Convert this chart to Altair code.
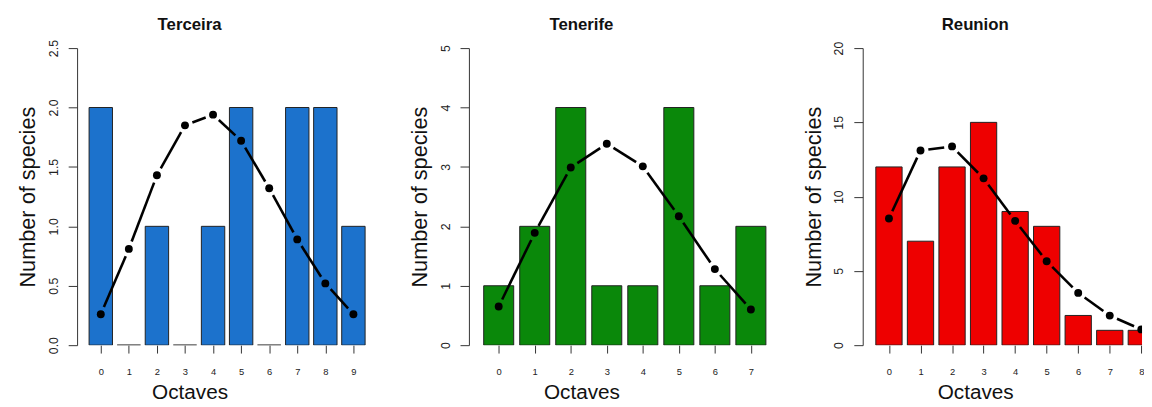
import altair as alt
import pandas as pd

FONT = "Liberation Sans"

# ---- data ----
octaves_terceira = [0, 1, 2, 3, 4, 5, 6, 7, 8, 9]
species_terceira = [2, 0, 1, 0, 1, 2, 0, 2, 2, 1]
fitted_terceira = [0.26, 0.81, 1.43, 1.85, 1.94, 1.72, 1.32, 0.89, 0.52, 0.26]

octaves_tenerife = [0, 1, 2, 3, 4, 5, 6, 7]
species_tenerife = [1, 2, 4, 1, 1, 4, 1, 2]
fitted_tenerife = [0.65, 1.89, 2.99, 3.39, 3.01, 2.17, 1.28, 0.60]

octaves_reunion = [0, 1, 2, 3, 4, 5, 6, 7, 8]
species_reunion = [12, 7, 12, 15, 9, 8, 2, 1, 1]
fitted_reunion = [8.53, 13.11, 13.38, 11.23, 8.37, 5.65, 3.52, 1.99, 1.06]

yticks_terceira = [0, 0.5, 1.0, 1.5, 2.0, 2.5]
yticks_tenerife = [0, 1, 2, 3, 4, 5]
yticks_reunion = [0, 5, 10, 15, 20]

BAR_HALF = 0.5 / 1.2   # R barplot: width 1, space 0.2 -> in octave units
GAP_PX = 8             # type="b" line gap around each point
H = 301


def panel(name, octs, counts, fitted, color, ymax, yvals, yfmt, xlo, xhi, width,
          title_offset):
    df = pd.DataFrame({"octave": octs, "species": counts, "fitted": fitted})
    kx = width / (xhi - xlo)
    ky = H / ymax
    xs = alt.Scale(domain=[xlo, xhi], nice=False, zero=False)
    ys = alt.Scale(domain=[0, ymax], nice=False, zero=True)
    xaxis = alt.Axis(
        values=octs, format="d", domain=False, grid=False,
        tickSize=8, tickColor="#333", tickWidth=1,
        labelFontSize=9.5, labelColor="#222", labelPadding=14, labelFont=FONT,
        labelAngle=0, labelFlush=False, labelOverlap=False,
        title="Octaves", titleFontSize=21, titleFontWeight="normal", titleFont=FONT,
        titleColor="#111", titleX=114, titleY=54, titleAlign="center",
        titleBaseline="alphabetic",
    )
    yaxis = alt.Axis(
        values=yvals, format=yfmt, domain=True, domainColor="#333", domainWidth=1,
        grid=False, tickSize=9, tickColor="#333", tickWidth=1,
        labelAngle=270, labelAlign="center", labelBaseline="bottom",
        labelFontSize=12.5, labelPadding=8, labelFont=FONT, labelColor="#222",
        labelFlush=False, labelOverlap=False,
        title="Number of species", titleFontSize=22, titleFontWeight="normal",
        titleFont=FONT, titleColor="#111", titleAngle=270, titleX=-43, titleY=H / 2,
        titleAlign="center", titleBaseline="alphabetic",
    )
    base = alt.Chart(df)
    bars = base.transform_calculate(
        left=f"datum.octave - {BAR_HALF}",
        right=f"datum.octave + {BAR_HALF}",
        bottom="0",
    ).mark_rect(fill=color, stroke="#222", strokeWidth=1, clip=True).encode(
        x=alt.X("left:Q", scale=xs, axis=xaxis),
        x2="right:Q",
        y=alt.Y("species:Q", scale=ys, axis=yaxis),
        y2="bottom:Q",
    )
    segs = base.transform_window(
        nx="lead(octave)", ny="lead(fitted)", sort=[alt.SortField("octave")]
    ).transform_filter("datum.nx != null").transform_calculate(
        dxp=f"(datum.nx - datum.octave) * {kx}",
        dyp=f"(datum.ny - datum.fitted) * {ky}",
    ).transform_calculate(
        t=f"{GAP_PX} / sqrt(datum.dxp * datum.dxp + datum.dyp * datum.dyp)"
    ).transform_calculate(
        sx="datum.octave + (datum.nx - datum.octave) * datum.t",
        sy="datum.fitted + (datum.ny - datum.fitted) * datum.t",
        ex="datum.nx - (datum.nx - datum.octave) * datum.t",
        ey="datum.ny - (datum.ny - datum.fitted) * datum.t",
    ).mark_rule(color="black", strokeWidth=2.6, strokeCap="butt", clip=True).encode(
        x=alt.X("sx:Q", scale=xs, axis=xaxis),
        x2="ex:Q",
        y=alt.Y("sy:Q", scale=ys, axis=yaxis),
        y2="ey:Q",
    )
    pts = base.mark_circle(size=64, color="black", opacity=1, clip=True).encode(
        x=alt.X("octave:Q", scale=xs, axis=xaxis),
        y=alt.Y("fitted:Q", scale=ys, axis=yaxis),
    )
    return alt.layer(bars, segs, pts).properties(
        width=width,
        height=H,
        title=alt.TitleParams(
            name, anchor="start", align="center", dx=114, frame="group",
            fontSize=17, fontWeight="bold", font=FONT, color="#111",
            offset=title_offset, baseline="bottom",
        ),
    )


p1 = panel("Terceira", octaves_terceira, species_terceira, fitted_terceira,
           "#1C72CC", 2.5, yticks_terceira, ".1f", -0.844, 9.81, 303, -11)
p2 = panel("Tenerife", octaves_tenerife, species_tenerife, fitted_tenerife,
           "#0A880A", 5, yticks_tenerife, "d", -0.827, 7.529, 305, -6)
p3 = panel("Reunion", octaves_reunion, species_reunion, fitted_reunion,
           "#EE0000", 20, yticks_reunion, "d", -0.832, 8.023, 283, -9.5)

chart = alt.hconcat(p1, p2, p3, spacing=33).properties(
    padding={"left": 9, "top": 5, "right": 0, "bottom": 0}
).configure(font=FONT, view=alt.ViewConfig(strokeWidth=0))

chart.save("out.html", embed_options={"renderer": "svg", "actions": False})
